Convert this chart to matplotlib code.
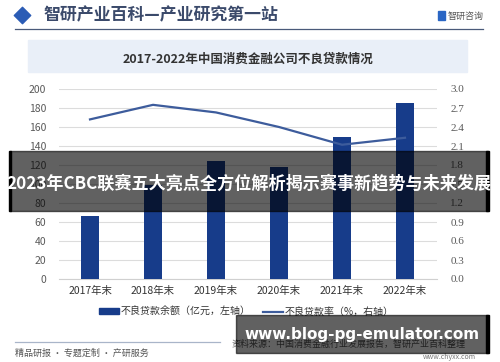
import matplotlib.pyplot as plt
import matplotlib.patches as mpatches
from matplotlib.lines import Line2D

plt.rcParams['font.family'] = ['Noto Sans CJK SC', 'DejaVu Sans']

# 数据
years = ['2017年末', '2018年末', '2019年末', '2020年末', '2021年末', '2022年末']
npl_amount = [66, 99, 124, 118, 149, 185]      # 不良贷款余额（亿元）
npl_ratio = [2.52, 2.75, 2.63, 2.40, 2.12, 2.23]  # 不良贷款率（%）
left_ticks = list(range(0, 201, 20))
right_ticks = [0.0, 0.3, 0.6, 0.9, 1.2, 1.5, 1.8, 2.1, 2.4, 2.7, 3.0]

W, H = 500, 362
bar_color = '#173c8a'
line_color = '#3d5c9c'

fig = plt.figure(figsize=(W / 100, H / 100), dpi=100)
fig.patch.set_facecolor('white')

# 主图区域（像素 -> 比例）
x0, x1, ytop, ybot = 58.5, 436.5, 89, 279
ax = fig.add_axes([x0 / W, (H - ybot) / H, (x1 - x0) / W, (ybot - ytop) / H])
xs = list(range(len(years)))
ax.bar(xs, npl_amount, width=0.3, color=bar_color, zorder=3)
ax.set_xlim(-0.5, len(years) - 0.5)
ax.set_ylim(0, 200)
ax.set_yticks(left_ticks)
ax.set_xticks(xs)
ax.set_xticklabels(years, fontsize=7.5, color='#333333')
ax.tick_params(axis='y', labelsize=7.5, labelcolor='#595959', length=0, pad=9)
ax.tick_params(axis='x', length=0, pad=5)
ax.grid(axis='y', color='#dcdcdc', linewidth=0.8, zorder=0)
for s in ax.spines.values():
    s.set_visible(False)
ax.spines['bottom'].set_visible(True)
ax.spines['bottom'].set_color('#d0d0d0')

ax2 = ax.twinx()
ax2.plot(xs, npl_ratio, color=line_color, linewidth=1.6, zorder=4)
ax2.set_ylim(0, 3.0)
ax2.set_yticks(right_ticks)
ax2.set_yticklabels([f'{t:.1f}' for t in right_ticks], family='Liberation Serif')
ax2.tick_params(axis='y', labelsize=8, labelcolor='#595959', length=0, pad=10)
for s in ax2.spines.values():
    s.set_visible(False)

handles = [mpatches.Patch(color=bar_color), Line2D([0], [0], color=line_color, linewidth=1.6)]
labels = ['不良贷款余额（亿元，左轴）', '不良贷款率（%，右轴）']
fig.legend(handles, labels, loc='center', bbox_to_anchor=(0.493, (H - 312) / H), ncol=2,
           frameon=False, fontsize=7.2, handlelength=2.0, handleheight=0.55,
           handletextpad=0.15, columnspacing=1.2, labelcolor='#333333')

# 覆盖层：页眉、标题框、页脚、横幅
ov = fig.add_axes([0, 0, 1, 1], zorder=10)
ov.set_xlim(0, W)
ov.set_ylim(H, 0)
ov.axis('off')
ov.patch.set_alpha(0)

ov.scatter([22], [15], marker='D', s=70, color='#2b5cb5')
ov.text(43, 15, '智研产业百科—产业研究第一站', fontsize=12.2, color='#3b4a6b',
        va='center', ha='left', fontweight='bold')
ov.plot([15, 483], [29, 29], color='#4a5a7a', linewidth=0.9)
ov.add_patch(mpatches.Rectangle((438, 11), 7, 9, color='#2a66c4'))
ov.text(448, 16, '智研咨询', fontsize=6.5, color='#555555', va='center', ha='left')

ov.add_patch(mpatches.Rectangle((28, 40), 439, 32, color='#e9eff8', zorder=0))
ov.text(248, 59, '2017-2022年中国消费金融公司不良贷款情况', fontsize=9, color='#333333',
        fontweight='bold', ha='center', va='center')

ov.plot([15, 220], [342, 342], color='#a9b5c9', linewidth=0.9)
ov.text(15, 353, '精品研报 · 专题定制 · 产研服务', fontsize=6.5, color='#555555',
        va='center', ha='left')
ov.text(232, 344, '资料来源：中国消费金融行业发展报告，智研产业百科整理', fontsize=6.5,
        color='#555555', va='center', ha='left')
ov.text(476, 357, 'www.chyxx.com', fontsize=5, color='#777777', va='center', ha='right')

# 横幅
ov.add_patch(mpatches.Rectangle((10, 151), 478, 60, color='black', alpha=0.62, zorder=20))
ov.add_patch(mpatches.Rectangle((9, 151), 2, 60, color='black', zorder=21))
ov.add_patch(mpatches.Rectangle((486, 151), 3, 60, color='black', zorder=21))
ov.text(248.5, 183, '2023年CBC联赛五大亮点全方位解析揭示赛事新趋势与未来发展', fontsize=12.3,
        color='white', fontweight='bold', ha='center', va='center', zorder=22)

ov.add_patch(mpatches.Rectangle((236, 315), 252, 38, color='black', alpha=0.62, zorder=20))
ov.add_patch(mpatches.Rectangle((486, 315), 3, 38, color='black', zorder=21))
ov.text(362, 335, 'www.blog-pg-emulator.com', fontsize=11, color='white',
        fontweight='bold', ha='center', va='center', family='DejaVu Sans', zorder=22)

fig.savefig('out.png', dpi=100)
